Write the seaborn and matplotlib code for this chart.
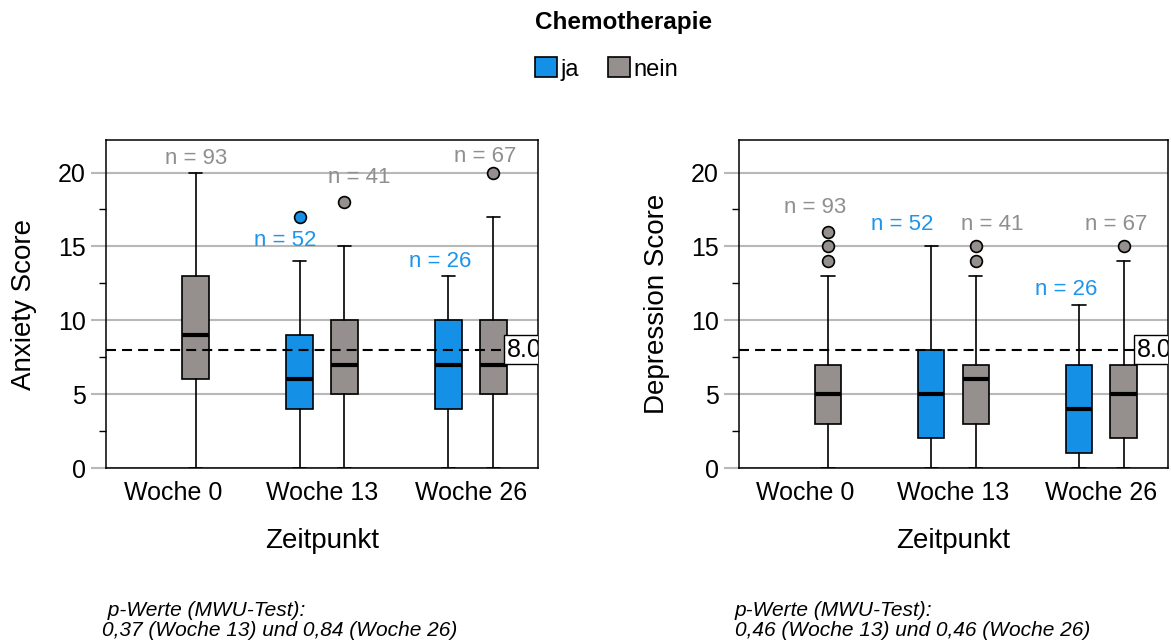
import numpy as np
import matplotlib
matplotlib.use("Agg")
import matplotlib.pyplot as plt
from matplotlib.patches import Patch
from matplotlib.ticker import MultipleLocator
import seaborn as sns

# ---------------- data ----------------
weeks = ["Woche 0", "Woche 13", "Woche 26"]
groups = ["ja", "nein"]
nan = np.nan

# Anxiety Score  (ja / nein)
anx_ja_q1 = [nan, 4, 4]
anx_ja_med = [nan, 6, 7]
anx_ja_q3 = [nan, 9, 10]
anx_ja_lo = [nan, 0, 0]
anx_ja_hi = [nan, 14, 13]
anx_ja_fliers = [[], [17], []]
anx_ja_n = [None, 52, 26]

anx_nein_q1 = [6, 5, 5]
anx_nein_med = [9, 7, 7]
anx_nein_q3 = [13, 10, 10]
anx_nein_lo = [0, 0, 0]
anx_nein_hi = [20, 15, 17]
anx_nein_fliers = [[], [18], [20]]
anx_nein_n = [93, 41, 67]

# Depression Score (ja / nein)
dep_ja_q1 = [nan, 2, 1]
dep_ja_med = [nan, 5, 4]
dep_ja_q3 = [nan, 8, 7]
dep_ja_lo = [nan, 0, 0]
dep_ja_hi = [nan, 15, 11]
dep_ja_fliers = [[], [], []]
dep_ja_n = [None, 52, 26]

dep_nein_q1 = [3, 3, 2]
dep_nein_med = [5, 6, 5]
dep_nein_q3 = [7, 7, 7]
dep_nein_lo = [0, 0, 0]
dep_nein_hi = [13, 13, 14]
dep_nein_fliers = [[14, 15, 16], [14, 15], [15]]
dep_nein_n = [93, 41, 67]

cutoff = 8.0
cutoff_label = "8.0"
ylabels = ["Anxiety Score", "Depression Score"]
xlabel = "Zeitpunkt"
legend_title = "Chemotherapie"
pval_line1 = [" p-Werte (MWU-Test):", "p-Werte (MWU-Test):"]
pval_line2 = ["0,37 (Woche 13) und 0,84 (Woche 26)", "0,46 (Woche 13) und 0,46 (Woche 26)"]

# ---------------- layout (label placement) ----------------
anx_lab = {"ja": dict(dx=[0, -0.094, -0.054], y=[nan, 15.4, 13.97]),
           "nein": dict(dx=[0.007, 0.10, -0.054], y=[20.98, 19.66, 21.1])}
dep_lab = {"ja": dict(dx=[0, -0.196, -0.087], y=[nan, 16.5, 12.05]),
           "nein": dict(dx=[-0.087, 0.108, -0.054], y=[17.65, 16.5, 16.5])}

# ---------------- style ----------------
sns.set_theme(style="white")
plt.rcParams["font.family"] = ["Liberation Sans", "DejaVu Sans"]
plt.rcParams["text.color"] = "black"
plt.rcParams["axes.labelcolor"] = "black"
plt.rcParams["xtick.color"] = "black"
plt.rcParams["ytick.color"] = "black"

BLUE = "#1490e6"
GREY = "#958f8e"
BLUE_TXT = "#1d95ea"
GREY_TXT = "#8f8f8f"
GRID = "#b8b8b8"
colors = {"ja": BLUE, "nein": GREY}
txtcolors = {"ja": BLUE_TXT, "nein": GREY_TXT}
offsets = {"ja": -0.151, "nein": 0.151}

W, H = 1171, 642
fig = plt.figure(figsize=(W / 100, H / 100), dpi=100)
ax1 = fig.add_axes([106 / W, (H - 468) / H, 432 / W, 328 / H])
ax2 = fig.add_axes([739 / W, (H - 468) / H, 429 / W, 328 / H])

panels = [
    (ax1, {"ja": (anx_ja_q1, anx_ja_med, anx_ja_q3, anx_ja_lo, anx_ja_hi, anx_ja_fliers, anx_ja_n),
           "nein": (anx_nein_q1, anx_nein_med, anx_nein_q3, anx_nein_lo, anx_nein_hi, anx_nein_fliers, anx_nein_n)},
     anx_lab, ylabels[0]),
    (ax2, {"ja": (dep_ja_q1, dep_ja_med, dep_ja_q3, dep_ja_lo, dep_ja_hi, dep_ja_fliers, dep_ja_n),
           "nein": (dep_nein_q1, dep_nein_med, dep_nein_q3, dep_nein_lo, dep_nein_hi, dep_nein_fliers, dep_nein_n)},
     dep_lab, ylabels[1]),
]

for ax, data, labs, ylab in panels:
    for g in groups:
        q1, med, q3, lo, hi, fl, ns = data[g]
        stats, pos, idxs = [], [], []
        for i in range(len(weeks)):
            if np.isnan(med[i]):
                continue
            stats.append(dict(q1=q1[i], med=med[i], q3=q3[i], whislo=lo[i], whishi=hi[i],
                              fliers=np.array(fl[i], dtype=float), label=weeks[i]))
            pos.append(i + offsets[g])
            idxs.append(i)
        ax.bxp(stats, positions=pos, widths=0.18, patch_artist=True, manage_ticks=False,
               showfliers=True, capwidths=0.09,
               boxprops=dict(facecolor=colors[g], edgecolor="black", linewidth=1.2),
               medianprops=dict(color="black", linewidth=3),
               whiskerprops=dict(color="black", linewidth=1.2),
               capprops=dict(color="black", linewidth=1.2),
               flierprops=dict(marker="o", markerfacecolor=colors[g], markeredgecolor="black",
                               markersize=8.5, markeredgewidth=1.2))
        for p, i in zip(pos, idxs):
            ax.text(p + labs[g]["dx"][i], labs[g]["y"][i], f"n = {ns[i]}", color=txtcolors[g],
                    fontsize=16, ha="center", va="center")

    ax.axhline(cutoff, color="black", linestyle=(0, (4.8, 2.9)), linewidth=1.5, zorder=3)
    ax.text(2.45 - 0.21, cutoff, cutoff_label, fontsize=18, ha="left", va="center", clip_on=True,
            zorder=4,
            bbox=dict(boxstyle="square,pad=0.1", facecolor="white", edgecolor="black", linewidth=1))

    ax.set_xlim(-0.45, 2.45)
    ax.set_ylim(0, 22.2)
    ax.set_xticks(range(len(weeks)))
    ax.set_xticklabels(weeks)
    ax.yaxis.set_major_locator(MultipleLocator(5))
    ax.yaxis.set_minor_locator(MultipleLocator(2.5))
    ax.yaxis.grid(True, which="major", color=GRID, linewidth=1.5)
    ax.xaxis.grid(False)
    ax.set_axisbelow(True)
    ax.tick_params(axis="y", which="major", left=True, length=11, width=1.5, color=GRID,
                   pad=3.5, labelsize=18, labelcolor="black")
    ax.tick_params(axis="y", which="minor", left=True, length=5.3, width=1, color="black")
    ax.tick_params(axis="x", which="both", bottom=False, length=0, pad=9, labelsize=18,
                   labelcolor="black")
    for s in ax.spines.values():
        s.set_visible(True)
        s.set_color("black")
        s.set_linewidth(1.1)
    ax.set_ylabel(ylab, fontsize=20, labelpad=15, color="black")
    ax.set_xlabel(xlabel, fontsize=20, labelpad=17, color="black")

# legend
handles = [Patch(facecolor=colors[g], edgecolor="black", linewidth=1.2, label=g) for g in groups]
leg = fig.legend(handles=handles, loc="center", bbox_to_anchor=(606.5 / W, 1 - 69 / H), ncol=2,
                 frameon=False, fontsize=17, handlelength=0.93, handleheight=0.93,
                 handletextpad=0.15, columnspacing=1.2, borderpad=0)
for t in leg.get_texts():
    t.set_color("black")
fig.text(623.7 / W, 1 - 22.7 / H, legend_title, fontsize=17.5, fontweight="bold",
         ha="center", va="center", color="black")

# p-value notes
for x0, l1, l2 in zip([102, 735], pval_line1, pval_line2):
    fig.text(x0 / W, 1 - 610 / H, l1, fontsize=15, style="italic", ha="left", va="center",
             color="black")
    fig.text(x0 / W, 1 - 631 / H, l2, fontsize=15, style="italic", ha="left", va="center",
             color="black")

fig.savefig("out.png", dpi=100)
